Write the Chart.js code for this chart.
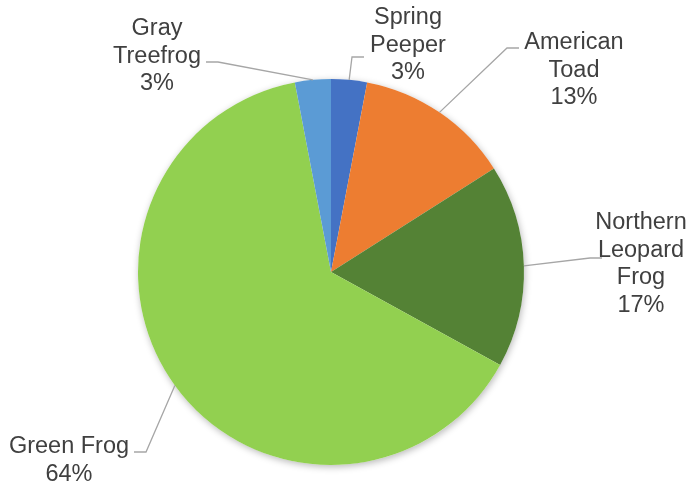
<!DOCTYPE html>
<html>
<head>
<meta charset="utf-8">
<title>Frog Species</title>
<script src="https://cdn.jsdelivr.net/npm/chart.js@4.4.0/dist/chart.umd.min.js"></script>
<style>
  html, body { margin: 0; padding: 0; background: #ffffff; }
  #wrap { width: 698px; height: 487px; position: relative; }
</style>
</head>
<body>
<div id="wrap"><canvas id="frogChart"></canvas></div>
<script>
// species and their share of the calls heard (%)
const species = ['Spring Peeper', 'American Toad', 'Northern Leopard Frog', 'Green Frog', 'Gray Treefrog'];
const shares = [3, 13, 17, 64, 3];
const sliceColors = ['#4472C4', '#ED7D31', '#548235', '#92D050', '#5B9BD5'];

// how each label is split over lines, and where its text block sits
const labelLines = [
    ['Spring', 'Peeper'],
    ['American', 'Toad'],
    ['Northern', 'Leopard', 'Frog'],
    ['Green Frog'],
    ['Gray', 'Treefrog']
];
const labelLayout = [
    { x: 408, y: 18, elbowX: 352, elbowY: 57, side: 'left' },
    { x: 574, y: 43, elbowX: 507, elbowY: 48, side: 'left' },
    { x: 641, y: 223, elbowX: 590, elbowY: 258, side: 'left' },
    { x: 69, y: 447, elbowX: 146, elbowY: 452, side: 'right' },
    { x: 157, y: 29, elbowX: 218, elbowY: 62, side: 'right' }
];

// soft drop shadow under the whole pie
const pieShadow = {
    id: 'pieShadow',
    beforeDatasetsDraw(chart) {
        const arc = chart.getDatasetMeta(0).data[0];
        if (!arc) return;
        const ctx = chart.ctx;
        ctx.save();
        ctx.shadowColor = 'rgba(0,0,0,0.28)';
        ctx.shadowBlur = 7;
        ctx.shadowOffsetX = 1;
        ctx.shadowOffsetY = 2;
        ctx.fillStyle = '#ffffff';
        ctx.beginPath();
        ctx.arc(arc.x, arc.y, arc.outerRadius, 0, Math.PI * 2);
        ctx.fill();
        ctx.restore();
    }
};

// category name + percentage with a bent leader line to the slice edge
const calloutLabels = {
    id: 'calloutLabels',
    afterDatasetsDraw(chart) {
        const ctx = chart.ctx;
        const meta = chart.getDatasetMeta(0);
        const total = shares.reduce((a, b) => a + b, 0);
        ctx.save();
        ctx.font = '23.5px "Liberation Sans", Arial, sans-serif';
        ctx.fillStyle = '#404040';
        ctx.textAlign = 'center';
        ctx.textBaseline = 'middle';
        meta.data.forEach((arc, i) => {
            const pos = labelLayout[i];
            const mid = (arc.startAngle + arc.endAngle) / 2;
            const ax = arc.x + Math.cos(mid) * arc.outerRadius;
            const ay = arc.y + Math.sin(mid) * arc.outerRadius;

            // leader line
            ctx.strokeStyle = '#a6a6a6';
            ctx.lineWidth = 1.3;
            ctx.beginPath();
            const stub = pos.side === 'left' ? pos.elbowX + 12 : pos.elbowX - 12;
            ctx.moveTo(stub, pos.elbowY);
            ctx.lineTo(pos.elbowX, pos.elbowY);
            ctx.lineTo(ax, ay);
            ctx.stroke();

            // text block
            const lines = labelLines[i].concat([Math.round(shares[i] / total * 100) + '%']);
            lines.forEach((t, k) => {
                ctx.fillText(t, pos.x, pos.y + k * 27.5);
            });
        });
        ctx.restore();
    }
};

new Chart(document.getElementById('frogChart'), {
    type: 'pie',
    data: {
        labels: species,
        datasets: [{
            data: shares,
            backgroundColor: sliceColors,
            borderWidth: 0
        }]
    },
    options: {
        responsive: true,
        maintainAspectRatio: false,
        animation: false,
        layout: {
            padding: { top: 79, bottom: 22, left: 138, right: 174 }
        },
        plugins: {
            legend: { display: false },
            tooltip: { enabled: false }
        }
    },
    plugins: [pieShadow, calloutLabels]
});
</script>
</body>
</html>
